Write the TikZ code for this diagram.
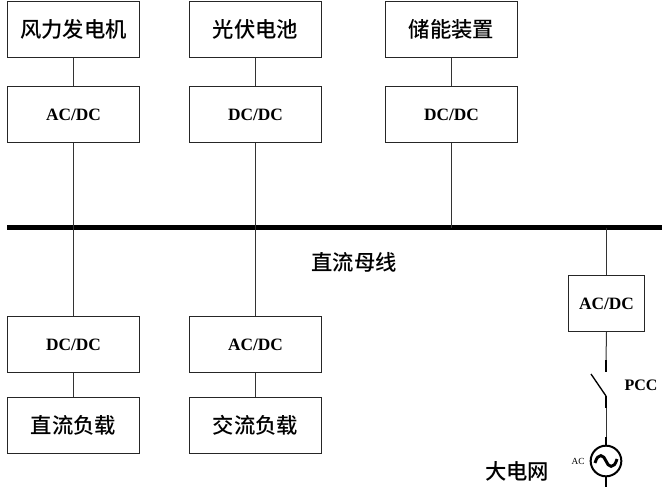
\documentclass[tikz,border=0pt]{standalone}
\usepackage{fontspec}
\setmainfont{Liberation Serif}
\newfontfamily\cjk{Noto Sans CJK SC Medium}
\tikzset{
	wide/.style={draw=black!85,line width=0.75pt,minimum width=99pt,minimum height=42pt,inner sep=0pt},
	narrow/.style={draw=black!85,line width=0.75pt,minimum width=57pt,minimum height=42pt,inner sep=0pt},
	lab/.style={font=\cjk\fontsize{16}{18}\selectfont,inner sep=0pt},
	conv/.style={font=\bfseries\fontsize{13}{15}\selectfont},
	wire/.style={draw=black!80,line width=0.75pt},
	stub/.style={draw=black,line width=1.5pt},
	bus/.style={draw=black,line width=3.75pt}
}
\begin{document}
\begin{tikzpicture}[x=0.75pt,y=-0.75pt]
	\useasboundingbox (0,0) rectangle (668,489);

	\node[wide,lab] (wind) at (73.5,29.5) {风力发电机};
	\node[wide,lab] (pv) at (255.5,29.5) {光伏电池};
	\node[wide,lab] (store) at (451.5,29.5) {储能装置};

	\node[wide,conv] (c1) at (73.5,114.5) {AC/DC};
	\node[wide,conv] (c2) at (255.5,114.5) {DC/DC};
	\node[wide,conv] (c3) at (451.5,114.5) {DC/DC};

	\coordinate (bl) at (7,227.5);
	\coordinate (br) at (662,227.5);
	\coordinate (b3) at (451.5,227.5);
	\coordinate (b4) at (606.5,227.5);
	\node[lab] (dcbus) at (354,262) {直流母线};

	\node[wide,conv] (c4) at (73.5,344.5) {DC/DC};
	\node[wide,conv] (c5) at (255.5,344.5) {AC/DC};
	\node[narrow,conv] (c6) at (606.5,303.5) {AC/DC};

	\node[wide,lab] (dcload) at (73.5,425.5) {直流负载};
	\node[wide,lab] (acload) at (255.5,425.5) {交流负载};

	\coordinate (s1) at (606,360);
	\coordinate (s2) at (606,372);
	\coordinate (s3) at (591,374);
	\coordinate (s4) at (606,396);
	\coordinate (s5) at (606,408);
	\node[conv,font=\bfseries\fontsize{12}{14}\selectfont] (pcc) at (641,385) {PCC};

	\node[circle,draw=black,line width=1.5pt,minimum size=23pt,inner sep=0pt] (grid) at (606,461) {};
	\coordinate (g1) at (606,437);
	\coordinate (g2) at (606,487);
	\node[inner sep=0pt,font=\fontsize{7}{8}\selectfont] (ac) at (578,461) {AC};
	\node[lab] (net) at (517,471) {大电网};

	\draw[bus] (bl) -- (br);
	\draw[wire] (wind) -- (c1);
	\draw[wire] (pv) -- (c2);
	\draw[wire] (store) -- (c3);
	\draw[wire] (c1) -- (c4);
	\draw[wire] (c2) -- (c5);
	\draw[wire] (c3) -- (b3);
	\draw[wire] (b4) -- (c6);
	\draw[wire] (c4) -- (dcload);
	\draw[wire] (c5) -- (acload);

	\draw[wire] (c6.south) -- (s1);
	\draw[stub] (s1) -- (s2);
	\draw[line width=1pt] (s3) -- (s4);
	\draw[stub] (s4) -- (s5);
	\draw[wire] (s5) -- (g1);
	\draw[stub] (g1) -- (grid);
	\draw[stub] (grid) -- (g2);

	\draw[line width=2.2pt] (595,463) .. controls (598,452) and (604,455) .. (606,461) .. controls (608,467) and (614,470) .. (617,459);
\end{tikzpicture}
\end{document}
